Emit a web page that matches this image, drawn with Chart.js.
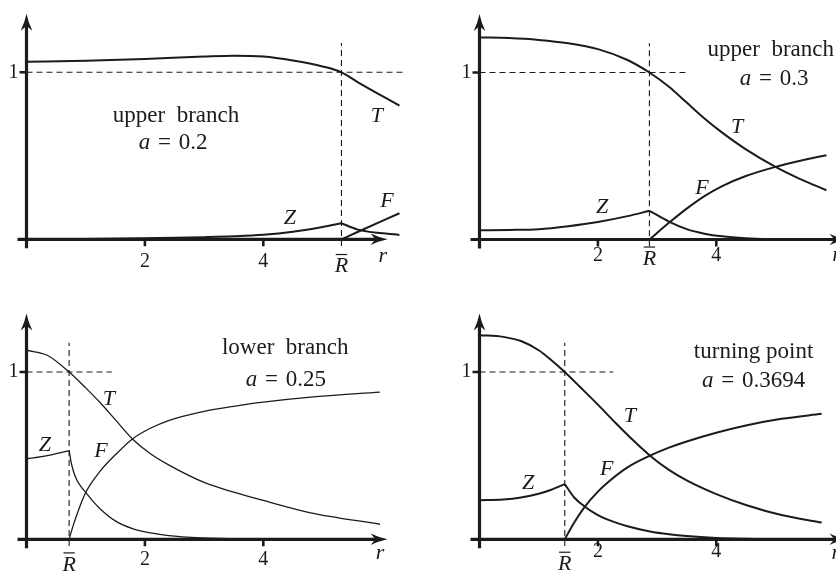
<!DOCTYPE html>
<html>
<head>
<meta charset="utf-8">
<script src="https://cdn.jsdelivr.net/npm/chart.js@4.4.1/dist/chart.umd.min.js"></script>
<style>
  html, body { margin: 0; padding: 0; background: #fff; }
  #figure { position: relative; width: 836px; height: 573px; overflow: hidden; }
  #figure canvas { position: absolute; }
</style>
</head>
<body>
<div id="figure">
  <canvas id="panel-upper-02"></canvas>
  <canvas id="panel-upper-03"></canvas>
  <canvas id="panel-lower-025"></canvas>
  <canvas id="panel-turning"></canvas>
</div>
<script>
const INK = '#1b1b1b';
const SERIF = '"Liberation Serif", "DejaVu Serif", serif';

// upper branch, a = 0.2
const upper02R = [0, 1, 2, 3, 3.5, 4, 4.5, 5, 5.32, 5.6, 6.3];
const upper02T = [1.063, 1.069, 1.08, 1.094, 1.099, 1.094, 1.07, 1.035, 1.0, 0.94, 0.80];
const upper02ZR = [0, 1, 2, 3, 3.5, 4, 4.5, 5, 5.32, 5.6, 6.3];
const upper02Z = [0, 0.002, 0.006, 0.013, 0.018, 0.027, 0.045, 0.073, 0.096, 0.058, 0.026];
const upper02FR = [5.32, 5.6, 6.3];
const upper02F = [0, 0.045, 0.156];

// upper branch, a = 0.3
const upper03R = [0, 0.5, 1, 1.5, 2, 2.5, 2.87, 3.2, 3.5, 3.8, 4.1, 4.5, 5.0, 5.4, 5.86];
const upper03T = [1.21, 1.206, 1.195, 1.175, 1.14, 1.075, 1.0, 0.915, 0.82, 0.725, 0.64, 0.54, 0.435, 0.365, 0.295];
const upper03ZR = [0, 0.5, 1, 1.5, 2, 2.5, 2.87, 3.2, 3.5, 3.8, 4.1, 4.5, 5.0, 5.3];
const upper03Z = [0.055, 0.057, 0.062, 0.08, 0.105, 0.14, 0.172, 0.107, 0.062, 0.035, 0.019, 0.008, 0.002, 0];
const upper03FR = [2.87, 3.2, 3.5, 3.8, 4.1, 4.5, 5.0, 5.4, 5.86];
const upper03F = [0, 0.10, 0.185, 0.26, 0.32, 0.38, 0.435, 0.47, 0.505];

// lower branch, a = 0.25
const lower025R = [0, 0.35, 0.72, 1.0, 1.25, 1.5, 1.79, 2.1, 2.4, 3.0, 3.5, 4.0, 4.8, 5.97];
const lower025T = [1.13, 1.10, 1.0, 0.905, 0.815, 0.715, 0.60, 0.51, 0.445, 0.34, 0.282, 0.232, 0.158, 0.09];
const lower025ZR = [0, 0.35, 0.72, 0.75, 0.79, 0.85, 0.92, 1.0, 1.12, 1.25, 1.5, 1.79, 2.1, 2.4, 3.0, 3.5, 4.0];
const lower025Z = [0.48, 0.50, 0.53, 0.468, 0.41, 0.355, 0.315, 0.28, 0.228, 0.18, 0.11, 0.064, 0.038, 0.022, 0.008, 0.003, 0];
const lower025FR = [0.72, 0.8, 0.9, 1.0, 1.25, 1.5, 1.79, 2.1, 2.4, 3.0, 3.5, 4.0, 4.8, 5.97];
const lower025F = [0, 0.095, 0.195, 0.28, 0.41, 0.505, 0.60, 0.665, 0.71, 0.765, 0.795, 0.82, 0.85, 0.88];

// turning point, a = 0.3694
const turningR = [0, 0.4, 0.7, 1.0, 1.2, 1.44, 1.7, 2.0, 2.3, 2.6, 2.88, 3.2, 3.5, 4.0, 4.5, 5.1, 5.78];
const turningT = [1.22, 1.21, 1.185, 1.13, 1.075, 1.0, 0.91, 0.805, 0.695, 0.59, 0.50, 0.415, 0.352, 0.27, 0.205, 0.145, 0.10];
const turningZR = [0, 0.4, 0.7, 1.0, 1.2, 1.44, 1.6, 1.78, 2.0, 2.2, 2.5, 2.88, 3.2, 3.5, 4.0, 4.5, 5.0];
const turningZ = [0.233, 0.238, 0.25, 0.272, 0.295, 0.33, 0.25, 0.195, 0.145, 0.113, 0.078, 0.047, 0.03, 0.019, 0.008, 0.003, 0];
const turningFR = [1.44, 1.6, 1.78, 2.0, 2.2, 2.5, 2.88, 3.2, 3.5, 4.0, 4.5, 5.1, 5.78];
const turningF = [0, 0.10, 0.195, 0.285, 0.35, 0.43, 0.50, 0.548, 0.585, 0.637, 0.68, 0.72, 0.75];

const rBarValues = [5.32, 2.87, 0.72, 1.44];
const branchNames = ['upper  branch', 'upper  branch', 'lower  branch', 'turning point'];
const aValues = ['0.2', '0.3', '0.25', '0.3694'];
const xTickValues = [2, 4];
const yTickValues = [1];

const profiles = [
  { t: [upper02R, upper02T], z: [upper02ZR, upper02Z], f: [upper02FR, upper02F] },
  { t: [upper03R, upper03T], z: [upper03ZR, upper03Z], f: [upper03FR, upper03F] },
  { t: [lower025R, lower025T], z: [lower025ZR, lower025Z], f: [lower025FR, lower025F] },
  { t: [turningR, turningT], z: [turningZR, turningZ], f: [turningFR, turningF] }
];

// page placement of each panel; label anchors are in (r, value) units
const panels = [
  { id: 'panel-upper-02', box: [0, 0, 418, 287], origin: [26.5, 239.3], unitX: 59.2, unitY: 167,
    xMax: 6.4, xTip: 6.1, curveWidth: 2, dashTo: 6.35,
    tickY: -0.136, rBarY: -0.163, rLabel: [6.02, -0.1],
    title: [2.525, 0.738], aLine: [2.475, 0.574], T: [5.92, 0.738], Z: [4.45, 0.128], F: [6.09, 0.229] },
  { id: 'panel-upper-03', box: [418, 0, 418, 287], origin: [479.5, 239.5], unitX: 59.2, unitY: 167,
    xMax: 5.9, xTip: 6.2, curveWidth: 2, dashTo: 3.48,
    tickY: -0.1, rBarY: -0.117, rLabel: [6.03, -0.093],
    title: [4.92, 1.135], aLine: [4.975, 0.964], T: [4.35, 0.674], Z: [2.07, 0.195], F: [3.76, 0.308] },
  { id: 'panel-lower-025', box: [0, 287, 418, 286], origin: [26.5, 539.3], unitX: 59.2, unitY: 167.3,
    xMax: 6.0, xTip: 6.1, curveWidth: 1.3, dashTo: 1.44,
    tickY: -0.124, rBarY: -0.153, rLabel: [5.97, -0.082],
    title: [4.37, 1.144], aLine: [4.38, 0.953], T: [1.39, 0.84], Z: [0.31, 0.564], F: [1.26, 0.528] },
  { id: 'panel-turning', box: [418, 287, 418, 286], origin: [479.5, 539.3], unitX: 59.2, unitY: 167.3,
    xMax: 5.9, xTip: 6.2, curveWidth: 2, dashTo: 2.26,
    tickY: -0.076, rBarY: -0.149, rLabel: [6.02, -0.082],
    title: [4.63, 1.12], aLine: [4.63, 0.946], T: [2.54, 0.737], Z: [0.82, 0.336], F: [2.15, 0.42] }
];

const Y_TOP = 1.35;

function arrowHead(ctx, x, y, angle) {
  const L = 17, W = 5.8;
  ctx.save();
  ctx.translate(x, y);
  ctx.rotate(angle);
  ctx.beginPath();
  ctx.moveTo(0, 0);
  ctx.quadraticCurveTo(-L * 0.5, -W * 0.3, -L, -W);
  ctx.lineTo(-L * 0.72, 0);
  ctx.lineTo(-L, W);
  ctx.quadraticCurveTo(-L * 0.5, W * 0.3, 0, 0);
  ctx.closePath();
  ctx.fill();
  ctx.restore();
}

// draws a row of roman / italic pieces centred on (cx, cy); pad adds room on both sides
function drawRuns(ctx, runs, cx, cy, size) {
  const fontOf = run => (run.italic ? 'italic ' : '') + size + 'px ' + SERIF;
  const widthOf = run => { ctx.font = fontOf(run); return ctx.measureText(run.text).width + 2 * (run.pad || 0); };
  const total = runs.reduce((s, run) => s + widthOf(run), 0);
  let x = cx - total / 2;
  ctx.textAlign = 'left';
  ctx.textBaseline = 'middle';
  runs.forEach(run => {
    const w = widthOf(run);
    ctx.fillText(run.text, x + (run.pad || 0), cy);
    x += w;
  });
}

function drawRBar(ctx, cx, cy) {
  ctx.font = 'italic 22px ' + SERIF;
  ctx.textAlign = 'center';
  ctx.textBaseline = 'middle';
  ctx.fillText('R', cx, cy);
  const w = ctx.measureText('R').width;
  ctx.lineWidth = 1.2;
  ctx.beginPath();
  ctx.moveTo(cx - w / 2 + 1, cy - 12);
  ctx.lineTo(cx + w / 2 - 1, cy - 12);
  ctx.stroke();
}

const decor = (p, i) => ({
  id: 'decor' + i,
  afterDatasetsDraw(chart) {
    const { ctx, scales } = chart;
    const px = v => scales.x.getPixelForValue(v);
    const py = v => scales.y.getPixelForValue(v);
    const ox = px(0), oy = py(0);
    ctx.save();
    ctx.strokeStyle = INK;
    ctx.fillStyle = INK;

    // axes with arrow heads
    ctx.lineWidth = 3.2;
    ctx.beginPath();
    ctx.moveTo(ox - 9, oy);
    ctx.lineTo(px(p.xTip) - 10, oy);
    ctx.moveTo(ox, oy + 9);
    ctx.lineTo(ox, py(Y_TOP) + 10);
    ctx.stroke();
    arrowHead(ctx, px(p.xTip), oy, 0);
    arrowHead(ctx, ox, py(Y_TOP), -Math.PI / 2);

    // tick marks
    ctx.lineWidth = 2.6;
    ctx.beginPath();
    xTickValues.forEach(v => { ctx.moveTo(px(v), oy); ctx.lineTo(px(v), oy + 7); });
    yTickValues.forEach(v => { ctx.moveTo(ox - 7, py(v)); ctx.lineTo(ox, py(v)); });
    ctx.stroke();

    // tick labels
    ctx.font = '20px ' + SERIF;
    ctx.textAlign = 'center';
    ctx.textBaseline = 'middle';
    xTickValues.forEach(v => ctx.fillText(String(v), px(v), py(p.tickY)));
    ctx.textAlign = 'right';
    yTickValues.forEach(v => ctx.fillText(String(v), ox - 8, py(v)));

    drawRBar(ctx, px(rBarValues[i]), py(p.rBarY));
    drawRuns(ctx, [{ text: 'r', italic: true }], px(p.rLabel[0]), py(p.rLabel[1]), 22);

    // curve names
    ['T', 'Z', 'F'].forEach(name => drawRuns(ctx, [{ text: name, italic: true }], px(p[name][0]), py(p[name][1]), 22));

    // branch caption
    drawRuns(ctx, [{ text: branchNames[i] }], px(p.title[0]), py(p.title[1]), 23);
    drawRuns(ctx, [{ text: 'a', italic: true }, { text: ' = ', pad: 2 }, { text: aValues[i] }],
      px(p.aLine[0]), py(p.aLine[1]), 23);
    ctx.restore();
  }
});

panels.forEach((p, i) => {
  const prof = profiles[i];
  const rBar = rBarValues[i];
  const [bx, by, bw, bh] = p.box;
  const canvas = document.getElementById(p.id);
  canvas.width = bw;
  canvas.height = bh;
  canvas.style.left = bx + 'px';
  canvas.style.top = by + 'px';

  const points = ([rs, ys]) => rs.map((r, k) => ({ x: r, y: ys[k] }));
  const zAll = points(prof.z);
  const curve = data => ({
    data, borderColor: INK, borderWidth: p.curveWidth, cubicInterpolationMode: 'monotone',
    pointRadius: 0, fill: false, clip: false
  });
  const guide = data => ({
    data, borderColor: INK, borderWidth: 1.1, borderDash: [6, 4],
    pointRadius: 0, fill: false, clip: false
  });

  new Chart(canvas, {
    type: 'line',
    data: {
      datasets: [
        guide([{ x: 0, y: 1 }, { x: p.dashTo, y: 1 }]),
        guide([{ x: rBar, y: -0.04 }, { x: rBar, y: 1.175 }]),
        curve(points(prof.t)),
        curve(zAll.filter(d => d.x <= rBar)),
        curve(zAll.filter(d => d.x >= rBar)),
        curve(points(prof.f))
      ]
    },
    options: {
      responsive: false,
      animation: false,
      layout: {
        padding: {
          left: p.origin[0] - bx,
          right: bx + bw - (p.origin[0] + p.xMax * p.unitX),
          top: p.origin[1] - Y_TOP * p.unitY - by,
          bottom: by + bh - p.origin[1]
        }
      },
      plugins: { legend: { display: false }, tooltip: { enabled: false } },
      scales: {
        x: { type: 'linear', min: 0, max: p.xMax, display: false },
        y: { type: 'linear', min: 0, max: Y_TOP, display: false }
      }
    },
    plugins: [decor(p, i)]
  });
});
</script>
</body>
</html>
